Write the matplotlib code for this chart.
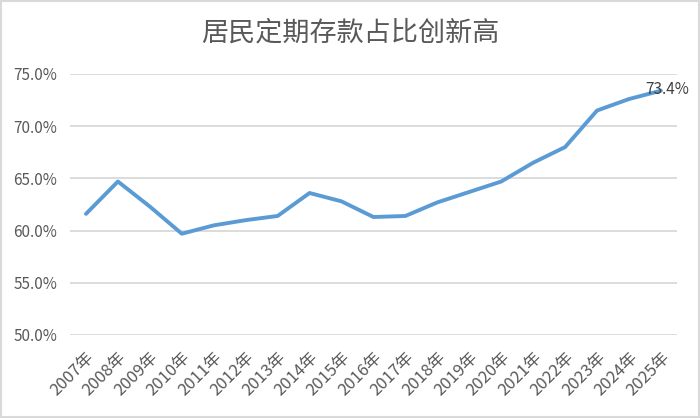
import matplotlib
matplotlib.use("Agg")
import matplotlib.pyplot as plt
from matplotlib.patches import Rectangle

plt.rcParams['font.family'] = ['Noto Sans CJK SC', 'DejaVu Sans']

years = ["2007年", "2008年", "2009年", "2010年", "2011年", "2012年", "2013年",
         "2014年", "2015年", "2016年", "2017年", "2018年", "2019年", "2020年",
         "2021年", "2022年", "2023年", "2024年", "2025年"]
share = [61.6, 64.7, 62.3, 59.7, 60.5, 61.0, 61.4, 63.6, 62.8, 61.3, 61.4,
         62.7, 63.7, 64.7, 66.5, 68.0, 71.5, 72.6, 73.4]
yticks = [50, 55, 60, 65, 70, 75]
title = "居民定期存款占比创新高"

fig = plt.figure(figsize=(7, 4.18), dpi=100)
ax = fig.add_axes([0.1, 0.1986, 0.867, 0.6244])
x = list(range(len(years)))
ax.plot(x, share, color="#5B9BD5", linewidth=2.8, solid_capstyle="round", solid_joinstyle="round", zorder=3)
ax.set_xlim(-0.5, len(years) - 0.5)
ax.set_ylim(50, 75)
ax.set_yticks(yticks)
ax.set_yticklabels([f"{v:.1f}%" for v in yticks], fontsize=11, color="#595959")
ax.set_xticks(x)
ax.set_xticklabels(years, rotation=45, ha="right", rotation_mode="anchor", fontsize=12, color="#595959")
ax.tick_params(axis="y", length=0, pad=9)
ax.tick_params(axis="x", length=0, pad=10)
ax.grid(axis="y", color="#D9D9D9", linewidth=1.3)
ax.set_axisbelow(True)
for s in ax.spines.values():
    s.set_visible(False)
ax.annotate(f"{share[-1]:.1f}%", (x[-1], share[-1]), xytext=(-11, 0.5), textcoords="offset points",
            ha="left", va="center", fontsize=11, color="#404040", annotation_clip=False, zorder=4)
fig.text(0.5, 0.921, title, ha="center", va="center", fontsize=19.5, color="#595959")
fig.patches.append(Rectangle((0.002, 0.003), 0.996, 0.994, transform=fig.transFigure,
                             fill=False, edgecolor="#D9D9D9", linewidth=1.5))
fig.savefig("out.png", dpi=100)
